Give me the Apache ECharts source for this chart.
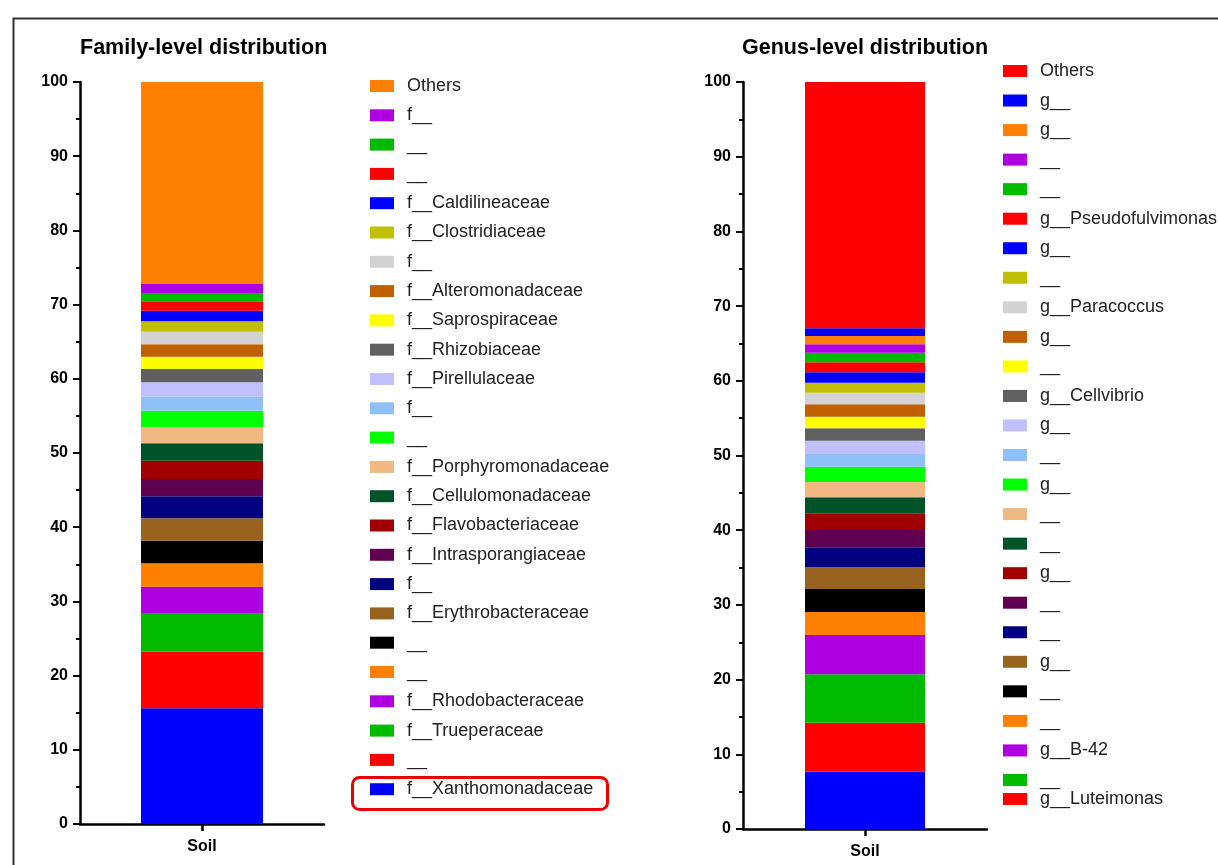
<!DOCTYPE html>
<html>
<head>
<meta charset="utf-8">
<script src="https://cdn.jsdelivr.net/npm/echarts@6/dist/echarts.min.js"></script>
<style>
html,body{margin:0;padding:0;background:#fff;}
#c{width:1218px;height:865px;}
</style>
</head>
<body>
<div id="c"></div>
<script>
// ---------- data (stack order: bottom -> top) ----------
const categories = ['Soil'];
const yTicks = [0, 10, 20, 30, 40, 50, 60, 70, 80, 90, 100];

const familyLabels = [
  'f__Xanthomonadaceae', '__', 'f__Trueperaceae', 'f__Rhodobacteraceae', '__', '__',
  'f__Erythrobacteraceae', 'f__', 'f__Intrasporangiaceae', 'f__Flavobacteriaceae',
  'f__Cellulomonadaceae', 'f__Porphyromonadaceae', '__', 'f__', 'f__Pirellulaceae',
  'f__Rhizobiaceae', 'f__Saprospiraceae', 'f__Alteromonadaceae', 'f__', 'f__Clostridiaceae',
  'f__Caldilineaceae', '__', '__', 'f__', 'Others'
];
const familyValues = [
  15.59, 7.63, 5.22, 3.54, 3.15, 3.05, 3.02, 2.96, 2.33, 2.47,
  2.34, 2.20, 2.20, 1.89, 1.94, 1.79, 1.66, 1.67, 1.70, 1.40,
  1.43, 1.27, 1.12, 1.21, 27.22
];

const genusLabels = [
  '__', 'g__Luteimonas', '__', 'g__B-42', '__', '__', 'g__', '__', '__', 'g__',
  '__', '__', 'g__', '__', 'g__', 'g__Cellvibrio', '__', 'g__', 'g__Paracoccus', '__',
  'g__', 'g__Pseudofulvimonas', '__', '__', 'g__', 'g__', 'Others'
];
const genusValues = [
  7.67, 6.56, 6.48, 5.26, 3.08, 3.08, 2.90, 2.68, 2.32, 2.24,
  2.14, 2.05, 2.05, 1.70, 1.78, 1.66, 1.55, 1.66, 1.55, 1.34,
  1.39, 1.34, 1.29, 1.12, 1.11, 1.03, 32.97
];

// ---------- palettes (bottom -> top) ----------
const familyColors = [
  '#0000FF', '#FF0000', '#00BB00', '#AE00E0', '#FF8000', '#000000',
  '#98621F', '#000080', '#600050', '#A00000', '#005228', '#F0B882',
  '#00FF00', '#90C0F8', '#C0C0FF', '#606060', '#FFFF00', '#C06000',
  '#D3D3D3', '#C0C000', '#0000FF', '#FF0000', '#00BB00', '#AE00E0', '#FF8000'
];
const genusColors = [
  '#0000FF', '#FF0000', '#00BB00', '#AE00E0', '#FF8000', '#000000',
  '#98621F', '#000080', '#600050', '#A00000', '#005228', '#F0B882',
  '#00FF00', '#90C0F8', '#C0C0FF', '#606060', '#FFFF00', '#C06000',
  '#D3D3D3', '#C0C000', '#0000FF', '#FF0000', '#00BB00', '#AE00E0', '#FF8000',
  '#0000FF', '#FF0000'
];

// ---------- build ----------
const FONT = 'Liberation Sans, Arial, Helvetica, sans-serif';
const chart = echarts.init(document.getElementById('c'), null, {renderer: 'canvas'});

function sid(prefix, i, label) { return label + '#' + prefix + i; }

const series = [];
familyLabels.forEach((lab, i) => {
  series.push({
    type: 'bar', name: sid('f', i, lab), stack: 'fam', xAxisIndex: 0, yAxisIndex: 0,
    barWidth: 122, data: [familyValues[i]],
    itemStyle: {color: familyColors[i]}, emphasis: {disabled: true}, silent: true
  });
});
genusLabels.forEach((lab, i) => {
  series.push({
    type: 'bar', name: sid('g', i, lab), stack: 'gen', xAxisIndex: 1, yAxisIndex: 1,
    barWidth: 120, data: [genusValues[i]],
    itemStyle: {color: genusColors[i]}, emphasis: {disabled: true}, silent: true
  });
});

const famLegend = familyLabels.map((l, i) => sid('f', i, l)).reverse();
const genAll = genusLabels.map((l, i) => sid('g', i, l)).reverse();
// legend as shown: top entries down to the one above Luteimonas, then Luteimonas (overlapping)
const lutIdx = genusLabels.indexOf('g__Luteimonas');
const genLegendMain = genAll.slice(0, genusLabels.length - 1 - lutIdx);
const genLegendLast = [sid('g', lutIdx, 'g__Luteimonas')];

function yAxis(gridIndex) {
  return {
    type: 'value', gridIndex, min: yTicks[0], max: yTicks[yTicks.length - 1], interval: 10,
    axisLine: {show: true, lineStyle: {color: '#000', width: 2.5}},
    axisTick: {show: true, length: 7, lineStyle: {color: '#000', width: 2}},
    minorTick: {show: true, splitNumber: 2, length: 4, lineStyle: {color: '#000', width: 2}},
    splitLine: {show: false},
    axisLabel: {color: '#000', fontFamily: FONT, fontWeight: 'bold', fontSize: 16, margin: 12}
  };
}
function xAxis(gridIndex) {
  return {
    type: 'category', gridIndex, data: categories,
    axisLine: {show: true, lineStyle: {color: '#000', width: 2.5}},
    axisTick: {show: true, alignWithLabel: true, length: 7, lineStyle: {color: '#000', width: 2.5}},
    axisLabel: {color: '#000', fontFamily: FONT, fontWeight: 'bold', fontSize: 16, margin: 15}
  };
}
const legendText = {fontFamily: FONT, fontSize: 18, lineHeight: 18, color: '#222', padding: [0, 0, 0, 8]};
const fmt = n => n.split('#')[0];

chart.setOption({
  animation: false,
  backgroundColor: '#fff',
  title: [
    {text: 'Family-level distribution', left: 80, top: 37, padding: 0,
     textStyle: {fontFamily: FONT, fontWeight: 'bold', fontSize: 21.5, color: '#000'}},
    {text: 'Genus-level distribution', left: 742, top: 37, padding: 0,
     textStyle: {fontFamily: FONT, fontWeight: 'bold', fontSize: 21.5, color: '#000'}}
  ],
  grid: [
    {left: 80, top: 82, width: 244, height: 742},
    {left: 743, top: 82, width: 244, height: 747}
  ],
  xAxis: [xAxis(0), xAxis(1)],
  yAxis: [yAxis(0), yAxis(1)],
  legend: [
    {data: famLegend, orient: 'vertical', left: 370, top: 77, padding: 0,
     itemWidth: 24, itemHeight: 12, itemGap: 11.3, icon: 'rect', selectedMode: false,
     formatter: fmt, textStyle: legendText},
    {data: genLegendMain, orient: 'vertical', left: 1003, top: 62, padding: 0,
     itemWidth: 24, itemHeight: 12, itemGap: 11.54, icon: 'rect', selectedMode: false,
     formatter: fmt, textStyle: legendText},
    {data: genLegendLast, orient: 'vertical', left: 1003, top: 790, padding: 0,
     itemWidth: 24, itemHeight: 12, icon: 'rect', selectedMode: false,
     formatter: fmt, textStyle: legendText}
  ],
  graphic: [
    {type: 'rect', left: 11, top: 16, silent: true,
     shape: {width: 1260, height: 900}, style: {fill: 'none', stroke: '#333', lineWidth: 2}},
    {type: 'rect', left: 350, top: 775, silent: true,
     shape: {width: 255, height: 32, r: 7}, style: {fill: 'none', stroke: '#EE0000', lineWidth: 3}}
  ],
  series
});
</script>
</body>
</html>
